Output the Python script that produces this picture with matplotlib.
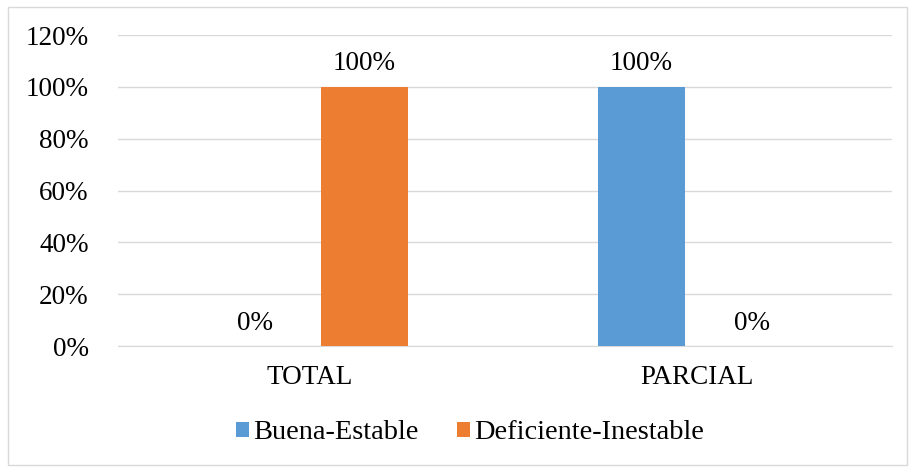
import matplotlib.pyplot as plt
import numpy as np
from matplotlib.patches import Rectangle

# datos
categorias = ["TOTAL", "PARCIAL"]
buena_estable = [0, 100]
deficiente_inestable = [100, 0]
series_nombres = ["Buena-Estable", "Deficiente-Inestable"]

plt.rcParams["font.family"] = ["Liberation Serif", "DejaVu Serif"]
fs = 19.5

fig = plt.figure(figsize=(9.09, 4.67), dpi=100)
ax = fig.add_axes([0.1298, 0.259, 0.8515, 0.666])

x = np.arange(len(categorias))
ancho = 0.225
desp = 0.142

b1 = ax.bar(x - desp, buena_estable, ancho, color="#5B9BD5", label=series_nombres[0], zorder=3)
b2 = ax.bar(x + desp, deficiente_inestable, ancho, color="#ED7D31", label=series_nombres[1], zorder=3)

for barras in (b1, b2):
    for b in barras:
        h = b.get_height()
        ax.text(b.get_x() + b.get_width() / 2, h + 4, f"{h:.0f}%",
                ha="center", va="bottom", fontsize=fs, color="#000000")

ax.set_xlim(-0.495, 1.505)
ax.set_ylim(0, 120)
ax.set_yticks(np.arange(0, 121, 20))
ax.set_yticklabels([f"{v}%" for v in range(0, 121, 20)], fontsize=fs)
ax.set_xticks(x)
ax.set_xticklabels(categorias, fontsize=fs)

ax.grid(axis="y", color="#D9D9D9", linewidth=1, zorder=0)
for s in ["top", "right", "left"]:
    ax.spines[s].set_visible(False)
ax.spines["bottom"].set_color("#D9D9D9")
ax.tick_params(axis="x", length=0, pad=14)
ax.tick_params(axis="y", length=0, pad=21)

fig.legend(loc="center", bbox_to_anchor=(0.517, 0.073), ncol=2, frameon=False,
           fontsize=20.4, handlelength=0.45, handleheight=0.45, handletextpad=0.15,
           columnspacing=1.35)

# borde del gráfico
fig.patches.append(Rectangle((8 / 909, 2 / 467), 899 / 909, 458 / 467, transform=fig.transFigure,
                             fill=False, edgecolor="#D9D9D9", linewidth=1))

fig.savefig("out.png", dpi=100)
